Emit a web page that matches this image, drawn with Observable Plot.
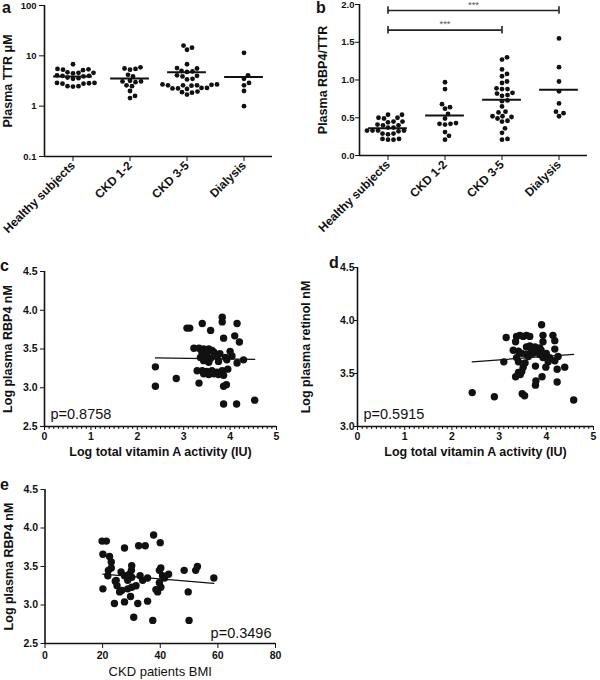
<!DOCTYPE html>
<html><head><meta charset="utf-8">
<script src="https://cdn.jsdelivr.net/npm/d3@7"></script>
<script src="https://cdn.jsdelivr.net/npm/@observablehq/plot@0.6"></script>
<style>
body{margin:0;background:#fff;}
#wrap{position:relative;width:600px;height:680px;overflow:hidden;font-family:"Liberation Sans",Arial,sans-serif;color:#111;}
.panel{position:absolute;}
.panel svg{overflow:visible;background:transparent;}
.tag{position:absolute;font-weight:bold;font-size:16px;line-height:16px;}
g[aria-label="y-axis label"] text{font-size:12.5px;}
g[aria-label="x-axis label"] text{font-size:12.5px;}
#pe g[aria-label="x-axis label"] text{font-weight:normal;font-size:13px;}
</style></head><body><div id="wrap"></div>
<script>
// ---------- data ----------
const groups = ["Healthy subjects", "CKD 1-2", "CKD 3-5", "Dialysis"];

const ttrHealthy = [6.8, 5.4, 5.3, 5.5, 5.2, 4.6, 4.5, 4.7, 4.6, 4.0, 4.1, 3.9, 4.0, 3.6, 3.7, 3.5, 2.9, 2.8, 2.85, 2.8, 2.9, 2.5, 2.5, 2.45];
const ttrCkd12 = [5.9, 5.6, 5.5, 5.3, 4.2, 3.9, 3.2, 3.1, 3.0, 3.1, 2.6, 2.5, 2.0, 1.6, 1.45];
const ttrCkd35 = [16, 14.5, 13.2, 6.8, 5.7, 5.6, 5.0, 4.9, 4.8, 4.1, 4.0, 3.9, 3.5, 3.4, 2.7, 2.65, 2.6, 2.6, 2.6, 2.55, 2.7, 2.3, 2.25, 2.2, 2.3, 2.25, 1.9, 1.85, 1.95, 1.7];
const ttrDialysis = [11.5, 4.1, 3.5, 2.9, 2.6, 2.0, 1.0];
const ttrCenter = [3.9, 3.55, 4.7, 3.8];
const ttrTicks = [0.1, 1, 10, 100];

const ratioHealthy = [0.54, 0.54, 0.50, 0.49, 0.50, 0.45, 0.45, 0.44, 0.40, 0.41, 0.40, 0.37, 0.37, 0.33, 0.33, 0.33, 0.32, 0.33, 0.29, 0.28, 0.29, 0.22, 0.22, 0.21, 0.21];
const ratioCkd12 = [0.97, 0.88, 0.68, 0.64, 0.62, 0.55, 0.49, 0.43, 0.42, 0.42, 0.41, 0.31, 0.26, 0.21];
const ratioCkd35 = [1.30, 1.27, 1.14, 1.08, 1.05, 0.98, 0.96, 0.89, 0.88, 0.88, 0.83, 0.82, 0.80, 0.79, 0.73, 0.72, 0.65, 0.58, 0.57, 0.52, 0.52, 0.51, 0.49, 0.46, 0.45, 0.36, 0.30, 0.22, 0.21];
const ratioDialysis = [1.55, 1.17, 0.98, 0.85, 0.69, 0.58, 0.56, 0.52];
const ratioCenter = [0.36, 0.53, 0.74, 0.87];
const ratioTicks = [0, 0.5, 1.0, 1.5, 2.0];
const sigFrom = [0, 0];
const sigTo = [3, 2];
const sigLevel = [1.92, 1.66];
const sigText = ["***", "***"];

const cVitA = [2.39,2.39,2.84,3.07,3.13,3.33,3.40,3.58,3.83,3.83,3.86,4.10,4.15,4.20,3.86,3.92,3.86,4.14,4.53,
  3.22,3.33,3.43,3.54,3.61, 3.39,3.50,3.65,3.78,4.00, 3.36,3.46,3.58,3.72,3.90,4.04,4.29,
  3.43,3.54,3.75,3.93,4.15, 3.29,3.40,3.50,3.61,3.72,3.83,3.95, 3.43,3.54,3.65,3.75,3.86];
const cRbp4 = [3.27,3.02,3.12,3.77,3.77,3.06,3.83,3.74,3.91,3.85,3.64,3.67,3.83,3.59,3.02,3.04,2.79,2.79,2.84,
  3.51,3.51,3.50,3.50,3.48, 3.46,3.45,3.46,3.44,3.47, 3.39,3.40,3.38,3.40,3.39,3.41,3.36,
  3.35,3.33,3.34,3.36,3.32, 3.22,3.22,3.21,3.22,3.20,3.22,3.24, 3.18,3.17,3.18,3.17,3.16];
const cFitX = [2.39, 4.53];
const cFitY = [3.385, 3.365];
const cP = "p=0.8758";

const dVitA = [2.43,2.90,3.49,3.54,4.58,3.15,3.90,
  3.35,3.45,3.77,3.78,3.91,4.23,4.23,4.39,3.77,3.99,
  3.37,3.44,3.51,3.58,3.65,3.93,4.14,4.18,3.93,3.35,
  3.58,3.65,3.76,3.86, 3.30,3.41,3.69,3.79,3.89,4.18,
  3.48,3.58,3.72,3.86,4.00, 3.37,3.62,3.93,4.07,4.25,
  3.10,3.41,3.55,4.04,4.18, 3.51,3.41,3.48];
const dRetinol = [3.32,3.28,3.31,3.29,3.25,3.84,3.96,
  3.47,3.49,3.39,3.43,3.47,3.42,3.54,3.56,3.57,3.56,
  3.85,3.86,3.85,3.86,3.85,3.86,3.86,3.81,3.80,3.80,
  3.75,3.76,3.75,3.74, 3.72,3.71,3.72,3.71,3.72,3.73,
  3.69,3.68,3.69,3.68,3.69, 3.65,3.66,3.65,3.65,3.66,
  3.61,3.61,3.60,3.61,3.62, 3.56,3.51,3.52];
const dFitX = [2.43, 4.58];
const dFitY = [3.61, 3.68];
const dP = "p=0.5915";

const eBmi = [19.8,21.3,20.1,27.6,32.5,34.8,37.7,40.0,
  22.4,23.0,30.1,40.2,39.7,52.9,52.3,48.3,58.6,
  20.1,24.1,27.6,32.2,35.6,30.8,37.4,50.0,49.7,
  21.8,24.7,26.4,27.6,29.3,30.1,28.7,26.7,25.9,28.7,30.1,31.6,33.9,35.6,39.7,40.2,39.1,40.8,42.9,24.4,29.7,23.0,22.0,30.0,25.0,41.5,38.5,33.0];
const eRbp4 = [3.83,3.83,3.66,3.74,3.77,3.77,3.91,3.81,
  3.63,3.56,3.51,3.48,3.45,3.50,3.45,3.45,3.35,
  3.21,3.02,3.04,3.02,3.05,2.84,2.80,2.80,3.17,
  3.38,3.32,3.43,3.38,3.40,3.36,3.32,3.19,3.17,3.21,3.23,3.25,3.32,3.35,3.29,3.23,3.17,3.38,3.40,3.31,3.11,3.48,3.45,3.45,3.25,3.35,3.20,3.38];
const eFitX = [20.1, 58.6];
const eFitY = [3.40, 3.28];
const eP = "p=0.3496";

const vitTicks = [0, 1, 2, 3, 4, 5];
const bmiTicks = [0, 20, 40, 60, 80];
const rbpTicks = [2.5, 3.0, 3.5, 4.0, 4.5];
const retTicks = [3.0, 3.5, 4.0, 4.5];

// ---------- helpers ----------
const ink = "#111";
const baseStyle = {fontFamily: "'Liberation Sans', Arial, sans-serif", fontSize: "10.5px", fontWeight: "bold", color: ink, background: "transparent", overflow: "visible"};
const wrap = document.getElementById("wrap");
function place(svg, id, left, top) {
  const d = document.createElement("div");
  d.className = "panel"; d.id = id;
  d.style.left = left + "px"; d.style.top = top + "px";
  d.appendChild(svg); wrap.appendChild(d);
}
function tag(t, left, top) {
  const d = document.createElement("div");
  d.className = "tag"; d.textContent = t;
  d.style.left = left + "px"; d.style.top = top + "px";
  wrap.appendChild(d);
}
// beeswarm layout: horizontal pixel offsets so dots don't overlap
function swarm(values, toPx, diam) {
  const order = d3.range(values.length).sort((a, b) => values[a] - values[b]);
  const placed = [], off = new Array(values.length);
  for (const i of order) {
    const py = toPx(values[i]);
    let best = 0;
    for (let k = 0; k < 600; k++) {
      const cand = (k % 2 ? 1 : -1) * Math.ceil(k / 2) * 0.5;
      if (placed.every(p => (p.x - cand) ** 2 + (p.y - py) ** 2 >= diam * diam)) { best = cand; break; }
    }
    placed.push({x: best, y: py}); off[i] = best;
  }
  return off;
}
function swarmPoints(series, toPx, pxPerUnit, diam) {
  const pts = [];
  series.forEach((vals, gi) => {
    const off = swarm(vals, toPx, diam);
    vals.forEach((v, j) => pts.push({x: gi + off[j] / pxPerUnit, y: v}));
  });
  return pts;
}
const xDomainCat = [-0.5, groups.length - 0.5];
const catIdx = groups.map((_, i) => i);

// ---------- panel a ----------
{
  const H = 240, mt = 5, mb = 84, W = 300, ml = 44, mr = 28;
  const yPx = d3.scaleLog([ttrTicks[0], ttrTicks[3]], [H - mb - mt, 0]);
  const pts = swarmPoints([ttrHealthy, ttrCkd12, ttrCkd35, ttrDialysis], yPx, (W - ml - mr) / groups.length, 5.2);
  const centers = ttrCenter.map((v, i) => ({i, v}));
  const svg = Plot.plot({
    width: W, height: H, marginLeft: ml, marginRight: mr, marginTop: mt, marginBottom: mb,
    style: baseStyle,
    x: {domain: xDomainCat},
    y: {type: "log", domain: [ttrTicks[0], ttrTicks[3]]},
    marks: [
      Plot.axisY({ticks: ttrTicks, tickFormat: d => String(d), tickSize: 5, tickPadding: 3, fontSize: 9.5, label: "Plasma TTR μM", labelAnchor: "center", labelOffset: 41, labelArrow: "none"}),
      Plot.axisX({ticks: catIdx, tickFormat: i => groups[i], tickRotate: -45, tickSize: 5, tickPadding: 2, label: null, fontSize: 12}),
      Plot.ruleX([xDomainCat[0]], {stroke: ink, strokeWidth: 1.6}),
      Plot.ruleY([ttrTicks[0]], {stroke: ink, strokeWidth: 1.6}),
      Plot.dot(pts, {x: "x", y: "y", r: 2.4, fill: ink, stroke: null}),
      Plot.ruleY(centers, {y: "v", x1: d => d.i - 0.34, x2: d => d.i + 0.34, stroke: ink, strokeWidth: 2})
    ]
  });
  place(svg, "pa", 0, 0);
}

// ---------- panel b ----------
{
  const H = 240, mt = 4, mb = 85, W = 300, ml = 59, mr = 13;
  const yPx = d3.scaleLinear([ratioTicks[0], ratioTicks[4]], [H - mb - mt, 0]);
  const pts = swarmPoints([ratioHealthy, ratioCkd12, ratioCkd35, ratioDialysis], yPx, (W - ml - mr) / groups.length, 5.2);
  const centers = ratioCenter.map((v, i) => ({i, v}));
  const sig = sigLevel.map((lv, k) => ({from: sigFrom[k], to: sigTo[k], lv, t: sigText[k]}));
  const caps = sig.flatMap(s => [{x: s.from, lv: s.lv}, {x: s.to, lv: s.lv}]);
  const svg = Plot.plot({
    width: W, height: H, marginLeft: ml, marginRight: mr, marginTop: mt, marginBottom: mb,
    style: baseStyle,
    x: {domain: xDomainCat},
    y: {domain: [ratioTicks[0], ratioTicks[4]]},
    marks: [
      Plot.axisY({ticks: ratioTicks, tickFormat: d3.format(".1f"), tickSize: 4, tickPadding: 1, fontSize: 9.5, label: "Plasma RBP4/TTR", labelAnchor: "center", labelOffset: 41, labelArrow: "none"}),
      Plot.axisX({ticks: catIdx, tickFormat: i => groups[i], tickRotate: -45, tickSize: 5, tickPadding: 2, label: null, fontSize: 12}),
      Plot.ruleX([xDomainCat[0]], {stroke: ink, strokeWidth: 1.6}),
      Plot.ruleY([ratioTicks[0]], {stroke: ink, strokeWidth: 1.6}),
      Plot.dot(pts, {x: "x", y: "y", r: 2.4, fill: ink, stroke: null}),
      Plot.ruleY(centers, {y: "v", x1: d => d.i - 0.34, x2: d => d.i + 0.34, stroke: ink, strokeWidth: 2}),
      Plot.ruleY(sig, {y: "lv", x1: "from", x2: "to", stroke: "#222", strokeWidth: 1.6}),
      Plot.ruleX(caps, {x: "x", y1: d => d.lv - 0.05, y2: d => d.lv + 0.05, stroke: "#222", strokeWidth: 1.6}),
      Plot.text(sig, {x: d => (d.from + d.to) / 2, y: "lv", text: "t", dy: -6, fontSize: 9.5, fontWeight: "normal", fill: "#555"})
    ]
  });
  place(svg, "pb", 300, 0);
}

// ---------- scatter panels ----------
function scatter({id, left, top, W, H, ml, mr, mt, mb, xs, ys, xTicks, yTicks, minor, xLabel, yLabel, yLabelOffset, xLabelOffset, yTickSize, yTickPad, xTickSize, xTickPad, fitX, fitY, pText, pAnchor}) {
  const pts = xs.map((x, i) => ({x, y: ys[i]}));
  const fit = fitX.map((x, i) => ({x, y: fitY[i]}));
  const xDom = [xTicks[0], xTicks[xTicks.length - 1]];
  const yDom = [yTicks[0], yTicks[yTicks.length - 1]];
  const marks = [
    Plot.axisY({ticks: yTicks, tickFormat: d3.format(".1f"), tickSize: yTickSize, tickPadding: yTickPad, label: yLabel, labelAnchor: "center", labelOffset: yLabelOffset, labelArrow: "none"}),
    Plot.axisX({ticks: xTicks, tickFormat: d => String(d), tickSize: xTickSize, tickPadding: xTickPad, label: xLabel, labelAnchor: "center", labelOffset: xLabelOffset, labelArrow: "none"}),
  ];
  if (minor) {
    const minorTicks = d3.range(xDom[0], xDom[1] + 1e-9, minor).filter(v => Math.abs(v - Math.round(v)) > 1e-6);
    marks.push(Plot.ruleX(minorTicks, {x: d => d, y1: yDom[0], y2: yDom[0], insetTop: 3, stroke: ink, strokeWidth: 1}));
  }
  marks.push(
    Plot.ruleX([xDom[0]], {stroke: ink, strokeWidth: 1.6}),
    Plot.ruleY([yDom[0]], {stroke: ink, strokeWidth: 1.6}),
    Plot.dot(pts, {x: "x", y: "y", r: 3.7, fill: ink, stroke: null}),
    Plot.line(fit, {x: "x", y: "y", stroke: ink, strokeWidth: 1.2}),
    Plot.text([pText], {frameAnchor: pAnchor === "left" ? "bottom-left" : "bottom-right", textAnchor: pAnchor === "left" ? "start" : "end", lineAnchor: "bottom", dx: pAnchor === "left" ? 6 : -4, dy: pAnchor === "left" ? -8 : -6, fontSize: 14.5, fontWeight: "normal", fill: ink})
  );
  const svg = Plot.plot({
    width: W, height: H, marginLeft: ml, marginRight: mr, marginTop: mt, marginBottom: mb,
    style: baseStyle,
    x: {domain: xDom}, y: {domain: yDom},
    marks
  });
  place(svg, id, left, top);
}

scatter({id: "pc", left: 0, top: 250, W: 300, H: 230, ml: 44, mr: 24, mt: 21, mb: 54,
  xs: cVitA, ys: cRbp4, xTicks: vitTicks, yTicks: rbpTicks, minor: 0.1,
  xLabel: "Log total vitamin A activity (IU)", yLabel: "Log plasma RBP4 nM", yLabelOffset: 41, xLabelOffset: 29, yTickSize: 4, yTickPad: 3, xTickSize: 4, xTickPad: 2,
  fitX: cFitX, fitY: cFitY, pText: cP, pAnchor: "left"});

scatter({id: "pd", left: 300, top: 250, W: 300, H: 230, ml: 57, mr: 7, mt: 17, mb: 54,
  xs: dVitA, ys: dRetinol, xTicks: vitTicks, yTicks: retTicks, minor: 0.1,
  xLabel: "Log total vitamin A activity (IU)", yLabel: "Log plasma retinol nM", yLabelOffset: 56, xLabelOffset: 29, yTickSize: 3, yTickPad: 0, xTickSize: 4, xTickPad: 2,
  fitX: dFitX, fitY: dFitY, pText: dP, pAnchor: "left"});

scatter({id: "pe", left: 0, top: 470, W: 300, H: 210, ml: 44.5, mr: 25, mt: 19, mb: 37,
  xs: eBmi, ys: eRbp4, xTicks: bmiTicks, yTicks: rbpTicks, minor: null,
  xLabel: "CKD patients BMI", yLabel: "Log plasma RBP4 nM", yLabelOffset: 41, xLabelOffset: 32, yTickSize: 4, yTickPad: 3, xTickSize: 5, xTickPad: 3,
  fitX: eFitX, fitY: eFitY, pText: eP, pAnchor: "right"});

tag("a", 2, 0);
tag("b", 316, 0);
tag("c", 0, 258);
tag("d", 329, 255);
tag("e", 0, 477);
</script></body></html>
